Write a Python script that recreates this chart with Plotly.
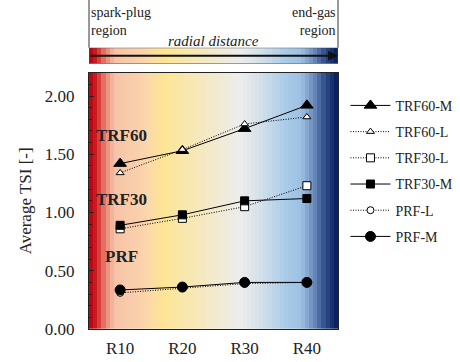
import numpy as np
import plotly.graph_objects as go

categories = ["R10", "R20", "R30", "R40"]
trf60_m = [1.42, 1.53, 1.72, 1.92]
trf60_l = [1.34, 1.54, 1.76, 1.82]
trf30_l = [0.86, 0.95, 1.05, 1.23]
trf30_m = [0.89, 0.98, 1.10, 1.12]
prf_l = [0.31, 0.35, 0.39, 0.40]
prf_m = [0.335, 0.36, 0.40, 0.40]
y_ticks = [0.0, 0.5, 1.0, 1.5, 2.0]

FONT = "Liberation Serif, Times New Roman, Times, serif"
xpos = list(range(len(categories)))

# background gradient (banded)
stops = [
    (0.00, "#b0000f"), (0.03, "#cf1f22"), (0.065, "#e98272"), (0.10, "#f6c2a8"),
    (0.22, "#fbd4ac"), (0.30, "#fde594"), (0.50, "#f3e9cd"), (0.61, "#ececec"),
    (0.69, "#d3e0ea"), (0.80, "#a7c9e7"), (0.85, "#9cc0e2"), (0.90, "#6f8fbf"),
    (0.95, "#2c4a88"), (1.00, "#03195a"),
]
N = 60
zrow = [(i + 0.5) / N for i in range(N)]
xedges = np.linspace(-0.5, 3.5, N + 1)

fig = go.Figure()
fig.add_trace(go.Heatmap(z=[zrow], x=xedges, y=[0, 2.2], colorscale=[list(s) for s in stops],
                         zmin=0, zmax=1, showscale=False, hoverinfo="skip", zsmooth=False,
                         xaxis="x", yaxis="y", showlegend=False))
fig.add_trace(go.Heatmap(z=[zrow], x=xedges, y=[0, 1], colorscale=[list(s) for s in stops],
                         zmin=0, zmax=1, showscale=False, hoverinfo="skip", zsmooth=False,
                         xaxis="x2", yaxis="y2", showlegend=False))

series = [
    ("TRF60-M", trf60_m, "triangle-up", 11, "black", "solid"),
    ("TRF60-L", trf60_l, "triangle-up", 7, "white", "1px,1.5px"),
    ("TRF30-L", trf30_l, "square", 8, "white", "1px,1.5px"),
    ("TRF30-M", trf30_m, "square", 8, "black", "solid"),
    ("PRF-L", prf_l, "circle", 7, "white", "1px,1.5px"),
    ("PRF-M", prf_m, "circle", 10, "black", "solid"),
]
for i, (name, vals, sym, sz, fill, dash) in enumerate(series):
    fig.add_trace(go.Scatter(
        x=xpos, y=vals, name=name, mode="lines+markers", legendgroup=name,
        line=dict(color="black", width=1, dash=dash),
        marker=dict(symbol=sym, size=sz, color=fill, line=dict(color="black", width=1)),
        xaxis="x", yaxis="y"))

annotations = [
    dict(x=-0.42, y=1.66, xref="x", yref="y", text="<b>TRF60</b>", showarrow=False,
         xanchor="left", font=dict(family=FONT, size=17, color="#222")),
    dict(x=-0.42, y=1.11, xref="x", yref="y", text="<b>TRF30</b>", showarrow=False,
         xanchor="left", font=dict(family=FONT, size=17, color="#222")),
    dict(x=-0.28, y=0.62, xref="x", yref="y", text="<b>PRF</b>", showarrow=False,
         xanchor="left", font=dict(family=FONT, size=17, color="#222")),
    dict(x=3.5, y=0.5, xref="x2", yref="y2", ax=-0.5, ay=0.5, axref="x2", ayref="y2",
         showarrow=True, arrowhead=2, arrowsize=1, arrowwidth=2, arrowcolor="#111", text=""),
    dict(x=0.0, y=0.99, xref="paper", yref="paper", yanchor="top", xanchor="left",
         text="spark-plug<br>region", showarrow=False, align="left",
         font=dict(family=FONT, size=14, color="#222")),
    dict(x=1.0, y=0.99, xref="paper", yref="paper", yanchor="top", xanchor="right",
         text="end-gas<br>region", showarrow=False, align="right",
         font=dict(family=FONT, size=14, color="#222")),
    dict(x=0.5, y=0.846, xref="paper", yref="paper", yanchor="bottom", xanchor="center",
         text="<i>radial distance</i>", showarrow=False,
         font=dict(family=FONT, size=15, color="#222")),
]

shapes = [
    dict(type="line", xref="paper", yref="paper", x0=0, x1=0, y0=0.855, y1=1.0,
         line=dict(color="#333", width=1)),
    dict(type="line", xref="paper", yref="paper", x0=1, x1=1, y0=0.855, y1=1.0,
         line=dict(color="#333", width=1)),
    dict(type="rect", xref="x2", yref="y2", x0=-0.5, x1=3.5, y0=0, y1=1,
         line=dict(color="#444", width=1)),
]

fig.update_layout(
    width=460, height=362,
    margin=dict(l=89, r=122, t=0, b=33, autoexpand=False),
    paper_bgcolor="white", plot_bgcolor="white",
    font=dict(family=FONT, size=14, color="#222"),
    showlegend=True,
    legend=dict(x=1.03, y=0.727, xanchor="left", yanchor="top", tracegroupgap=5,
                font=dict(family=FONT, size=14, color="#222"), bgcolor="rgba(0,0,0,0)",
                itemwidth=40),
    xaxis=dict(domain=[0, 1], range=[-0.5, 3.5], tickvals=xpos, ticktext=categories,
               showgrid=False, zeroline=False, showline=True, linecolor="#222", linewidth=1,
               mirror=True, ticks="", tickfont=dict(family=FONT, size=17), automargin=False,
               ticklabelstandoff=4),
    yaxis=dict(domain=[0, 0.779], range=[0, 2.2], tickvals=y_ticks, automargin=False,
               tickformat=".2f", showgrid=False, zeroline=False, showline=True,
               linecolor="#222", linewidth=1, mirror=True, ticks="inside", ticklen=5,
               tickcolor="#222", minor=dict(dtick=0.1, ticks="inside", ticklen=3, tickcolor="#222"),
               title=dict(text="Average TSI [-]", font=dict(family=FONT, size=17), standoff=8),
               tickfont=dict(family=FONT, size=17), ticklabelstandoff=10),
    xaxis2=dict(domain=[0, 1], range=[-0.5, 3.5], anchor="y2", visible=False),
    yaxis2=dict(domain=[0.806, 0.855], range=[0, 1], anchor="x2", visible=False),
    annotations=annotations, shapes=shapes,
)

fig.write_html("out.html", post_script="document.body.style.margin='0px';",
               config={"displayModeBar": False})
